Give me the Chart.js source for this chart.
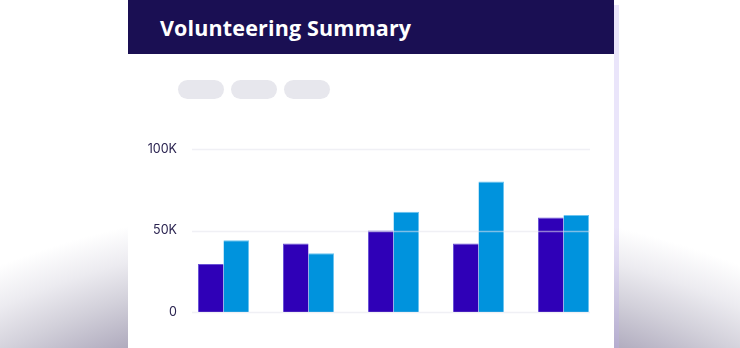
<!DOCTYPE html>
<html>
<head>
<meta charset="utf-8">
<script src="https://cdn.jsdelivr.net/npm/chart.js@4/dist/chart.umd.min.js"></script>
<style>
  html, body { margin: 0; padding: 0; }
  body {
    width: 740px; height: 348px; overflow: hidden; position: relative;
    background: radial-gradient(ellipse 620px 330px at 370px 530px, #7a7398 0%, #9d97b0 52%, #aba6ba 66%, #d2d0da 80%, #ecebf0 90%, #ffffff 100%);
    font-family: Inter, "Noto Sans", sans-serif;
  }
  #shadow { position: absolute; left: 614px; top: 5px; width: 5px; height: 343px; background: rgba(190,175,240,0.32); }
  #card { position: absolute; left: 128px; top: 0; width: 486px; height: 348px; background: #ffffff; }
  #header { position: absolute; left: 0; top: 0; width: 486px; height: 54px; background: #1a0f53; }
  #title { position: absolute; left: 32px; top: 13px; color: #ffffff; font-family: "Open Sans", Inter, sans-serif; font-weight: 700; font-size: 21.5px; letter-spacing: 0.15px; white-space: nowrap; }
  .pill { position: absolute; top: 80px; width: 46px; height: 19px; border-radius: 10px; background: #e7e7ed; }
  #wrap { position: absolute; left: 0; top: 120px; width: 486px; height: 228px; }
</style>
</head>
<body>
<div id="shadow"></div>
<div id="card">
  <div id="header"><div id="title">Volunteering Summary</div></div>
  <div class="pill" style="left:50px"></div>
  <div class="pill" style="left:103px"></div>
  <div class="pill" style="left:156px"></div>
  <div id="wrap"><canvas id="c"></canvas></div>
</div>
<script>
const categories = ["1", "2", "3", "4", "5"];
const seriesA = [29500, 42000, 50000, 42000, 58000];
const seriesB = [44000, 36000, 61500, 80000, 59500];
const tickValues = [0, 50000, 100000];
const tickLabels = ["0", "50K", "100K"];

const gridOnTop = {
  id: 'gridOnTop',
  afterDatasetsDraw(chart) {
    const y = chart.scales.y, a = chart.chartArea, ctx = chart.ctx;
    ctx.save();
    ctx.strokeStyle = 'rgba(228,228,236,0.55)';
    ctx.lineWidth = 1.5;
    y.ticks.forEach(t => {
      const py = Math.round(y.getPixelForValue(t.value)) + 0.5;
      ctx.beginPath();
      ctx.moveTo(a.left + 11, py);
      ctx.lineTo(a.right - 16, py);
      ctx.stroke();
    });
    ctx.restore();
  }
};

new Chart(document.getElementById('c'), {
  type: 'bar',
  data: {
    labels: categories,
    datasets: [
      { data: seriesA, backgroundColor: '#2f00b7', borderColor: '#6a52d6', borderWidth: {top:1,left:1,right:0,bottom:0}, borderSkipped: false },
      { data: seriesB, backgroundColor: '#0093dd', borderColor: '#6cc4f0', borderWidth: {top:1,left:0,right:1,bottom:0}, borderSkipped: false }
    ]
  },
  plugins: [gridOnTop],
  options: {
    responsive: true,
    maintainAspectRatio: false,
    animation: false,
    layout: { padding: { top: 29, bottom: 36, left: 0, right: 8 } },
    plugins: { legend: { display: false }, tooltip: { enabled: false } },
    datasets: { bar: { categoryPercentage: 0.6, barPercentage: 1.0 } },
    scales: {
      x: { display: false, offset: true },
      y: {
        min: 0, max: 100000,
        border: { display: false },
        grid: { display: false, drawTicks: false },
        afterBuildTicks(s) { s.ticks = tickValues.map(v => ({ value: v })); },
        afterFit(s) { s.width = 53; },
        ticks: {
          padding: 4,
          color: '#2a2350',
          font: { family: 'Inter', size: 12.5 },
          callback: (v) => tickLabels[tickValues.indexOf(v)]
        }
      }
    }
  }
});
</script>
</body>
</html>
